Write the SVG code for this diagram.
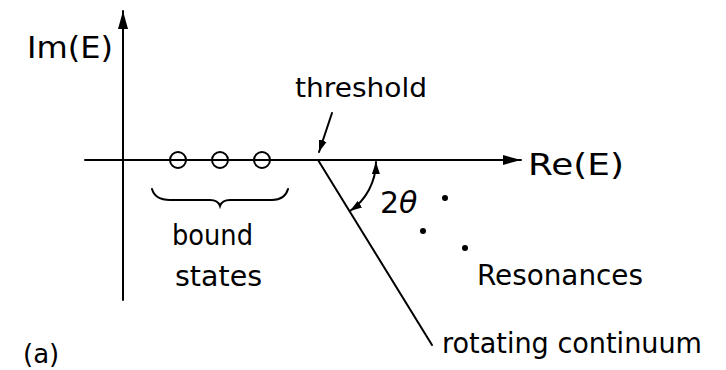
<svg xmlns="http://www.w3.org/2000/svg" width="726" height="370" viewBox="0 0 726 370">
<style>
  .ln { stroke:#000; stroke-width:2; fill:none; stroke-linecap:round; }
  .t { font-family:"DejaVu Sans","Liberation Sans",sans-serif; fill:#000; }
  .dot { fill:#000; }
</style>
<defs>
  <marker id="ah" markerUnits="userSpaceOnUse" markerWidth="20" markerHeight="12" refX="18" refY="6" orient="auto">
    <path d="M0,1 L18,6 L0,11 Z" fill="#000"/>
  </marker>
  <marker id="sh" markerUnits="userSpaceOnUse" markerWidth="14" markerHeight="10" refX="12" refY="5" orient="auto-start-reverse">
    <path d="M0,1 L12,5 L0,9 Z" fill="#000"/>
  </marker>
</defs>
<rect width="726" height="370" fill="#fff"/>
<g id="axes">
  <line class="ln" x1="123" y1="300" x2="123" y2="11" marker-end="url(#ah)"/>
  <line class="ln" x1="85" y1="160" x2="521" y2="160" marker-end="url(#ah)"/>
  <text class="t" x="27" y="58" font-size="30" textLength="86" lengthAdjust="spacingAndGlyphs">Im(E)</text>
  <text class="t" x="528" y="175" font-size="30" textLength="96" lengthAdjust="spacingAndGlyphs">Re(E)</text>
</g>
<g id="bound-states">
  <circle class="ln" cx="178" cy="160" r="8" fill="#fff"/>
  <circle class="ln" cx="220" cy="160" r="8" fill="#fff"/>
  <circle class="ln" cx="262" cy="160" r="8" fill="#fff"/>
  <path class="ln" d="M152,189 Q155,200 170,200 L210,200 Q218,200 220,206 Q222,200 230,200 L272,200 Q285,200 288,189"/>
  <text class="t" x="172" y="245" font-size="28" textLength="81" lengthAdjust="spacingAndGlyphs">bound</text>
  <text class="t" x="175" y="286" font-size="28" textLength="87" lengthAdjust="spacingAndGlyphs">states</text>
</g>
<g id="threshold">
  <text class="t" x="295" y="97" font-size="26" textLength="132" lengthAdjust="spacingAndGlyphs">threshold</text>
</g>
<g id="resonances">
  <circle class="dot" cx="445" cy="198" r="3"/>
  <circle class="dot" cx="423" cy="231" r="3"/>
  <circle class="dot" cx="465" cy="248" r="3"/>
  <text class="t" x="477" y="285" font-size="28" textLength="166" lengthAdjust="spacingAndGlyphs">Resonances</text>
</g>
<g id="angle">
  <text class="t" x="380" y="213" font-size="30">2<tspan font-style="italic">θ</tspan></text>
</g>
<g id="continuum">
  <text class="t" x="442" y="353" font-size="28" textLength="260" lengthAdjust="spacingAndGlyphs">rotating continuum</text>
</g>
<g id="label-a">
  <text class="t" x="23" y="363" font-size="26">(a)</text>
</g>
<g id="connectors">
  <line class="ln" x1="318" y1="160" x2="432" y2="345"/>
  <line class="ln" x1="332" y1="113" x2="319" y2="152" marker-end="url(#sh)"/>
  <path class="ln" d="M376,162 A60,60 0 0 1 350,211" marker-start="url(#sh)" marker-end="url(#sh)"/>
</g>
</svg>
